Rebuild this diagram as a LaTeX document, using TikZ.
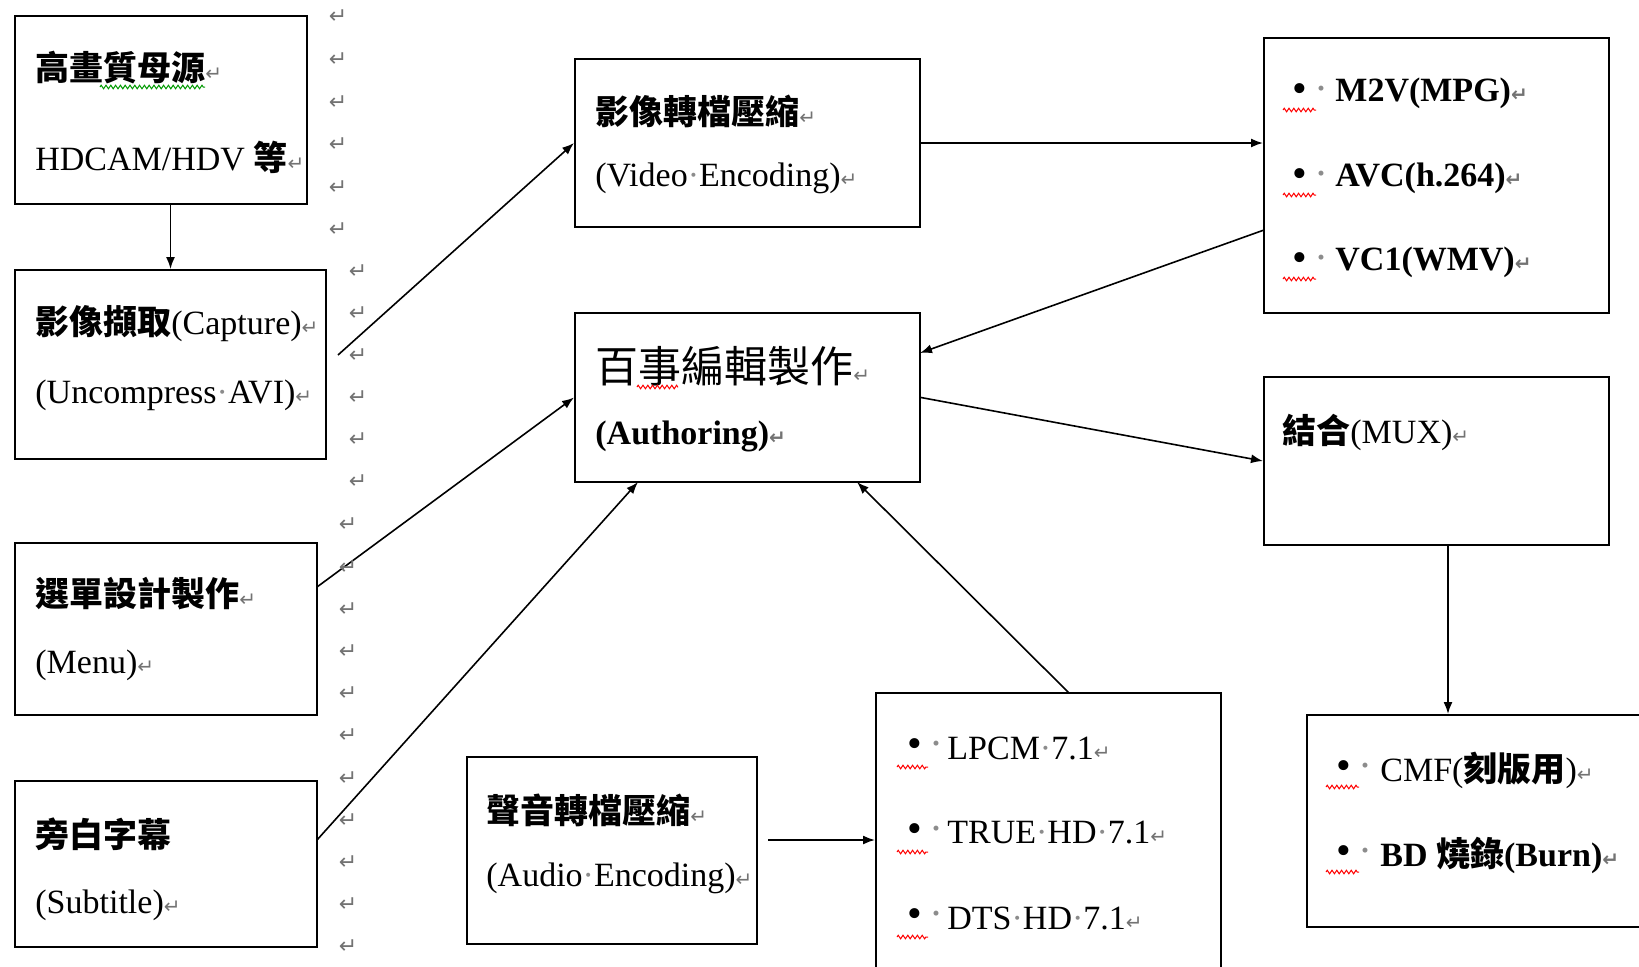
\documentclass[tikz,border=0pt]{standalone}
\usepackage{fontspec}
\setmainfont{Liberation Serif}
\newfontfamily\cjk{Noto Sans CJK TC}
\newfontfamily\symfont{DejaVu Sans}
\usetikzlibrary{arrows.meta}
\usetikzlibrary{decorations.pathmorphing}
\pgfdeclarelayer{edgelayer}
\pgfdeclarelayer{nodelayer}
\pgfsetlayers{edgelayer,nodelayer,main}
\tikzstyle{none}=[inner sep=0pt]
\tikzstyle{box}=[draw=black,line width=1pt,inner sep=0pt,fill=white]
\tikzstyle{txt}=[inner sep=0pt,anchor=west,font=\fontsize{17}{20}\selectfont]
\tikzstyle{bigtxt}=[inner sep=0pt,anchor=west,font=\cjk\fontsize{21.5}{24}\selectfont]
\tikzstyle{bullet}=[inner sep=0pt,anchor=west,font=\fontsize{21}{22}\selectfont]
\tikzstyle{pmk}=[inner sep=0pt,text=black!55,font=\symfont\fontsize{11}{12}\selectfont]
\tikzstyle{transition}=[-{Latex[length=6pt,width=4.5pt]},draw=black,line width=0.8pt]
\tikzstyle{squiggle}=[decorate,decoration={zigzag,amplitude=0.9pt,segment length=2.4pt},line width=0.5pt]
\newcommand{\parmark}{{\symfont\fontsize{10}{10}\selectfont\color{black!55}↵}}
\newcommand{\sd}{{\color{black!45}·}}
\newcommand{\zh}[1]{{\cjk\bfseries #1}}

\begin{document}
\begin{tikzpicture}[x=0.5pt,y=-0.5pt]
	\clip (0,0) rectangle (1639,966);
	\begin{pgfonlayer}{nodelayer}
		% boxes
		\node [style=box, minimum width=146pt, minimum height=94pt] (0) at (161, 110) {};
		\node [style=box, minimum width=155.5pt, minimum height=94.5pt] (1) at (170.5, 364.5) {};
		\node [style=box, minimum width=172.5pt, minimum height=84pt] (2) at (747.5, 143) {};
		\node [style=box, minimum width=172.5pt, minimum height=84.5pt] (3) at (747.5, 397.5) {};
		\node [style=box, minimum width=172.5pt, minimum height=137.5pt] (4) at (1436.5, 175.5) {};
		\node [style=box, minimum width=172.5pt, minimum height=84pt] (5) at (1436.5, 461) {};
		\node [style=box, minimum width=151pt, minimum height=86pt] (6) at (166, 629) {};
		\node [style=box, minimum width=151pt, minimum height=83pt] (7) at (166, 864) {};
		\node [style=box, minimum width=145pt, minimum height=93.5pt] (8) at (612, 850.5) {};
		\node [style=box, minimum width=172.5pt, minimum height=153.5pt] (9) at (1048.5, 846.5) {};
		\node [style=box, minimum width=176.5pt, minimum height=106pt] (10) at (1483.5, 821) {};
		% texts
		\node [style=txt] (11) at (35, 68) {\zh{高畫質母源}\parmark};
		\node [style=txt] (12) at (35, 157) {HDCAM/HDV \zh{等}\parmark};
		\node [style=txt] (13) at (35, 324) {\zh{影像擷取}(Capture)\parmark};
		\node [style=txt] (14) at (35, 395) {(Uncompress\sd AVI)\parmark};
		\node [style=txt] (15) at (595, 111) {\zh{影像轉檔壓縮}\parmark};
		\node [style=txt] (16) at (595, 178) {(Video\sd Encoding)\parmark};
		\node [style=bigtxt] (17) at (595, 366) {百事編輯製作\parmark};
		\node [style=txt] (18) at (595, 436) {\bfseries (Authoring)\parmark};
		\node [style=bullet] (19) at (1292, 93) {•\,\sd};
		\node [style=txt] (20) at (1335, 93) {\bfseries M2V(MPG)\parmark};
		\node [style=bullet] (21) at (1292, 178) {•\,\sd};
		\node [style=txt] (22) at (1335, 178) {\bfseries AVC(h.264)\parmark};
		\node [style=bullet] (23) at (1292, 262) {•\,\sd};
		\node [style=txt] (24) at (1335, 262) {\bfseries VC1(WMV)\parmark};
		\node [style=txt] (25) at (1282, 432) {\zh{結合}(MUX)\parmark};
		\node [style=txt] (26) at (35, 594) {\zh{選單設計製作}\parmark};
		\node [style=txt] (27) at (35, 665) {(Menu)\parmark};
		\node [style=txt] (28) at (35, 834) {\zh{旁白字幕}};
		\node [style=txt] (29) at (35, 905) {(Subtitle)\parmark};
		\node [style=txt] (30) at (486, 810) {\zh{聲音轉檔壓縮}\parmark};
		\node [style=txt] (31) at (486, 878) {(Audio\sd Encoding)\parmark};
		\node [style=bullet] (32) at (907, 748) {•\,\sd};
		\node [style=txt] (33) at (947, 748) {LPCM\sd 7.1\parmark};
		\node [style=bullet] (34) at (907, 833) {•\,\sd};
		\node [style=txt] (35) at (947, 833) {TRUE\sd HD\sd 7.1\parmark};
		\node [style=bullet] (36) at (907, 918) {•\,\sd};
		\node [style=txt] (37) at (947, 918) {DTS\sd HD\sd 7.1\parmark};
		\node [style=bullet] (38) at (1336, 770) {•\,\sd};
		\node [style=txt] (39) at (1380, 770) {CMF(\zh{刻版用})\parmark};
		\node [style=bullet] (40) at (1336, 855) {•\,\sd};
		\node [style=txt] (41) at (1380, 855) {\bfseries BD \zh{燒錄}(Burn)\parmark};
		% paragraph marks
		\foreach \i in {0,...,5}
			\node [style=pmk] (p\i) at (338, 17+42.6*\i) {↵};
		\foreach \i in {0,...,5}
			\node [style=pmk] (q\i) at (358, 272+42*\i) {↵};
		\foreach \i in {0,...,10}
			\node [style=pmk] (r\i) at (348, 525+42.2*\i) {↵};
		% free ends
		\coordinate (50) at (338, 355);
		\coordinate (51) at (317, 587);
		\coordinate (52) at (317, 840);
		\coordinate (53) at (1069, 693);
		\coordinate (54) at (1264, 230);
		\coordinate (55) at (1448, 545);
		\coordinate (56) at (768, 840);
		\coordinate (57) at (638, 482);
		\coordinate (58) at (857, 482);
		\coordinate (59) at (920, 353);
	\end{pgfonlayer}
	\begin{pgfonlayer}{edgelayer}
		\draw [style=transition] (1.north |- 0.south) to (1.north);
		\draw [style=transition] (50) to (2.west);
		\draw [style=transition] (51) to (3.west);
		\draw [style=transition] (52) to (57);
		\draw [style=transition] (53) to (58);
		\draw [style=transition] (2.east) to (4.west |- 2.east);
		\draw [style=transition] (54) to (59);
		\draw [style=transition] (3.east) to (5.west);
		\draw [style=transition] (55) to (55 |- 10.north);
		\draw [style=transition] (56) to (9.west |- 56);
	\end{pgfonlayer}
	% spelling marks
	\draw [style=squiggle, green!60!black] (100, 87) -- (205, 87);
	\draw [style=squiggle, red] (637, 387) -- (678, 387);
	\foreach \y in {110,195,279}
		\draw [style=squiggle, red] (1283, \y) -- (1316, \y);
	\foreach \y in {767,852,937}
		\draw [style=squiggle, red] (897, \y) -- (928, \y);
	\foreach \y in {787,872}
		\draw [style=squiggle, red] (1326, \y) -- (1359, \y);
\end{tikzpicture}
\end{document}
